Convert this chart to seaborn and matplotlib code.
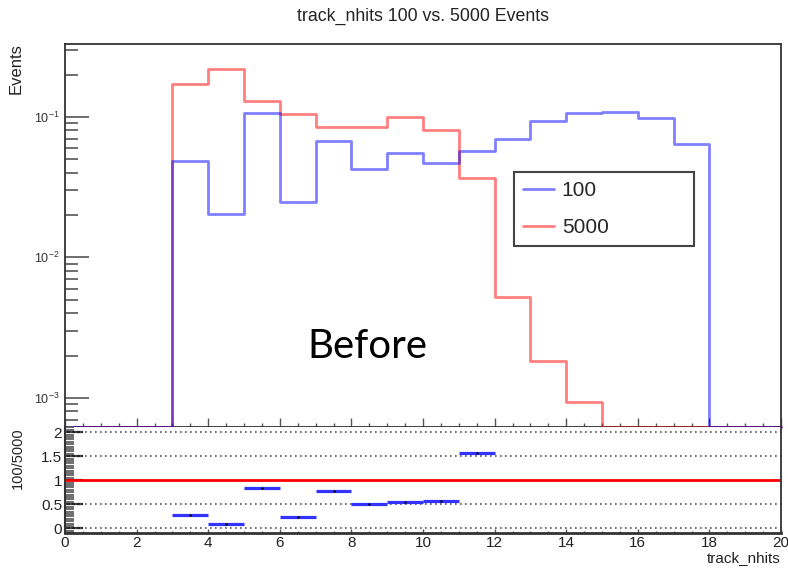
import numpy as np
import pandas as pd
import matplotlib
matplotlib.use("Agg")
import matplotlib.pyplot as plt
import matplotlib.ticker as mticker
import seaborn as sns

# ---------------- data ----------------
bin_edges = list(range(0, 21))  # track_nhits bins 0..20
events_100 = [0, 0, 0, 0.0485, 0.0203, 0.107, 0.0246, 0.0668, 0.0422, 0.0553,
              0.0467, 0.0576, 0.0698, 0.0936, 0.107, 0.109, 0.098, 0.0642, 0, 0]
events_5000 = [0, 0, 0, 0.172, 0.219, 0.129, 0.105, 0.085, 0.085, 0.100,
               0.081, 0.0366, 0.0052, 0.00184, 0.00093, 0, 0, 0, 0, 0]
series_labels = ["100", "5000"]
x_ticks = list(range(0, 21, 2))
ratio_ticks = [0, 0.5, 1, 1.5, 2]

# ---------------- style ----------------
sns.set_style("ticks")
plt.rcParams['font.family'] = ['Liberation Sans', 'DejaVu Sans']
plt.rcParams['mathtext.fontset'] = 'custom'
plt.rcParams['mathtext.rm'] = 'Liberation Sans'

W, H = 788, 569
fig = plt.figure(figsize=(W / 100, H / 100), dpi=100)

ax_left, ax_right = 65, 781
top1, bot1 = 44, 427
bot2 = 533.3
ax1 = fig.add_axes([ax_left / W, 1 - bot1 / H, (ax_right - ax_left) / W, (bot1 - top1) / H])
ax2 = fig.add_axes([ax_left / W, 1 - bot2 / H, (ax_right - ax_left) / W, (bot2 - bot1) / H])

blue = (0.0, 0.0, 1.0)
red = (1.0, 0.0, 0.0)
ymin, ymax = 6.2e-4, 0.33

edges = np.array(bin_edges, dtype=float)


def step_frame(vals):
    v = np.array(vals, dtype=float)
    v = np.where(v > 0, v, ymin)
    return pd.DataFrame({"x": edges, "y": np.append(v, v[-1])})


d100 = step_frame(events_100)
d5000 = step_frame(events_5000)
sns.lineplot(data=d5000, x="x", y="y", ax=ax1, color=red, alpha=0.5, lw=2,
             drawstyle="steps-post", label=series_labels[1], sort=False, zorder=3)
sns.lineplot(data=d100, x="x", y="y", ax=ax1, color=blue, alpha=0.5, lw=2,
             drawstyle="steps-post", label=series_labels[0], sort=False, zorder=3)
for ln in ax1.get_lines():
    ln.set_clip_on(False)

ax1.set_yscale("log")
ax1.set_xlim(0, 20)
ax1.set_ylim(ymin, ymax)
ax1.set_xlabel("")
ax1.set_ylabel("")
ax1.xaxis.set_major_locator(mticker.FixedLocator(x_ticks))
ax1.xaxis.set_minor_locator(mticker.MultipleLocator(0.5))
ax1.tick_params(axis="x", which="major", direction="in", length=6.5, width=1, color="#555555",
                labelbottom=False)
ax1.tick_params(axis="x", which="minor", direction="in", length=3, width=1, color="#555555")
ax1.yaxis.set_major_locator(mticker.LogLocator(base=10, numticks=10))
ax1.yaxis.set_minor_locator(mticker.LogLocator(base=10, subs=np.arange(2, 10), numticks=10))
ax1.yaxis.set_minor_formatter(mticker.NullFormatter())
ax1.tick_params(axis="y", which="major", direction="in", length=17, width=1.2, color="#555555",
                labelsize=9, pad=4, labelcolor="#333333")
ax1.tick_params(axis="y", which="minor", direction="in", length=9.5, width=1.2, color="#555555")
for s in ax1.spines.values():
    s.set_color("#333333")
    s.set_linewidth(1.3)
    s.set_zorder(2)

# legend (ROOT-like wide box)
handles, labels = ax1.get_legend_handles_labels()
order = [labels.index(series_labels[0]), labels.index(series_labels[1])]
leg = ax1.legend([handles[i] for i in order], [labels[i] for i in order],
                 loc="upper left", bbox_to_anchor=(0.627, 0.444, 0.251, 0.222), mode="expand",
                 borderaxespad=0, fontsize=15, frameon=True, fancybox=False, framealpha=1,
                 edgecolor="#444444", handlelength=1.45, handletextpad=0.4,
                 labelspacing=0.85, borderpad=0.45)
leg.get_frame().set_linewidth(1.5)
leg.set_zorder(5)

# ---------------- ratio panel ----------------
centers = (edges[:-1] + edges[1:]) / 2
a = np.array(events_100, dtype=float)
b = np.array(events_5000, dtype=float)
mask = (a > 0) & (b > 0)
ratio = a[mask] / b[mask]
rc = centers[mask]

for yv in [0, 0.5, 1.5, 2]:
    ax2.axhline(yv, color="#555555", lw=1.2, ls=(0, (1, 2)), zorder=1)
ax2.axhline(1, color=red, lw=2, zorder=2)
ax2.errorbar(rc, ratio, xerr=0.5, fmt="none", ecolor=(0.2, 0.2, 1.0), elinewidth=2.3,
             capsize=0, zorder=3)
sns.scatterplot(x=rc, y=ratio, ax=ax2, color="black", s=3, linewidth=0, zorder=4)

ax2.set_xlim(0, 20)
ax2.set_ylim(-0.104, 2.11)
ax2.xaxis.set_major_locator(mticker.FixedLocator(x_ticks))
ax2.xaxis.set_minor_locator(mticker.MultipleLocator(0.5))
ax2.yaxis.set_major_locator(mticker.FixedLocator(ratio_ticks))
ax2.yaxis.set_minor_locator(mticker.MultipleLocator(0.05))
ax2.yaxis.set_major_formatter(mticker.FuncFormatter(lambda v, p: f"{v:g}"))
ax2.tick_params(axis="x", which="major", direction="in", length=3, width=1, color="#555555",
                labelsize=11, pad=2, labelcolor="#222222")
ax2.tick_params(axis="x", which="minor", direction="in", length=1.5, width=1, color="#555555")
ax2.tick_params(axis="y", which="major", direction="in", length=13, width=1.6, color="#222222",
                labelsize=11, pad=2, labelcolor="#222222")
ax2.tick_params(axis="y", which="minor", direction="in", length=6.5, width=1.2, color="#555555")
ax2.spines["top"].set_visible(False)
for k in ["left", "bottom", "right"]:
    ax2.spines[k].set_color("#333333")
ax2.spines["left"].set_linewidth(1.5)
ax2.spines["right"].set_linewidth(1.3)
ax2.spines["bottom"].set_linewidth(2)
ax2.set_ylabel("")
ax2.set_xlabel("track_nhits", loc="right", fontsize=11, labelpad=1, color="#222222")

# ---------------- texts ----------------
fig.text(423 / W, 1 - 16 / H, "track_nhits 100 vs. 5000 Events", ha="center", va="center",
         fontsize=12.8, color="#222222")
fig.text(16 / W, 1 - 43 / H, "Events", rotation=90, ha="center", va="top", fontsize=12,
         color="#222222")
fig.text(18 / W, 1 - 427 / H, "100/5000", rotation=90, ha="center", va="top", fontsize=10.5,
         color="#222222")
fig.text(367 / W, 1 - 347 / H, "Before", ha="center", va="center", fontsize=29,
         family=["Lato", "DejaVu Sans"], color="black")

fig.savefig("out.png", dpi=100)
